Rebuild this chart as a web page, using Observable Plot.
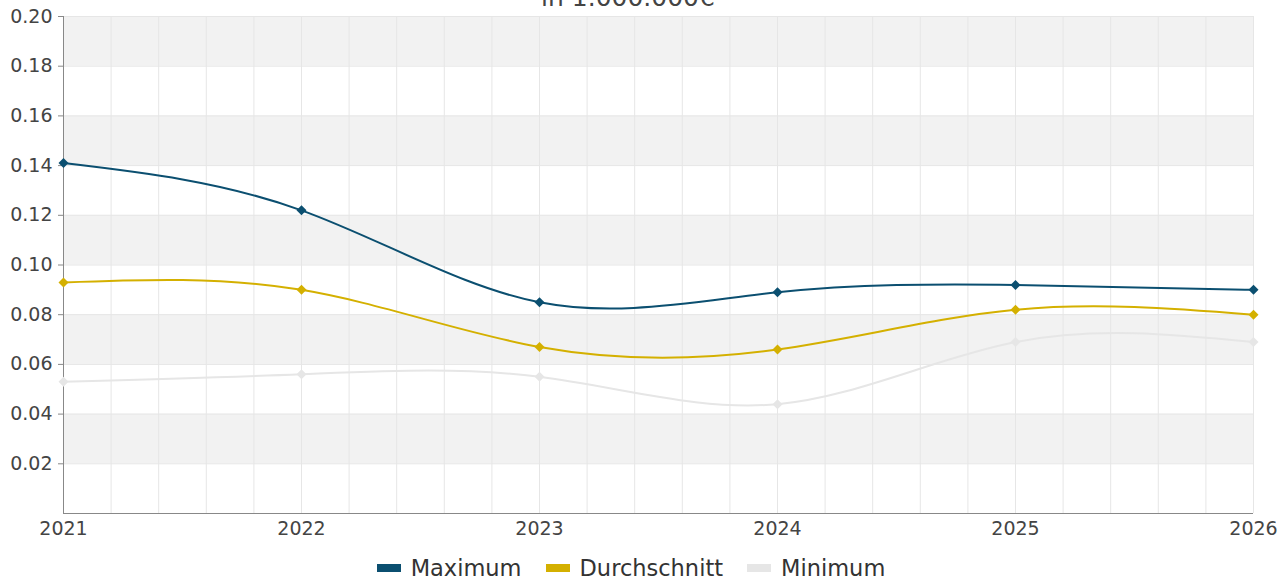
<!DOCTYPE html>
<html>
<head>
<meta charset="utf-8">
<script src="https://cdn.jsdelivr.net/npm/d3@7"></script>
<script src="https://cdn.jsdelivr.net/npm/@observablehq/plot@0.6"></script>
<style>
  html, body { margin: 0; padding: 0; background: #fff; overflow: hidden; width: 1288px; height: 582px; }
  body { position: relative; font-family: "DejaVu Sans", sans-serif; }
  #title { position: absolute; z-index: 2; left: 0; width: 1256px; top: -15px; text-align: center; font-size: 25px; line-height: 25px; color: #444; white-space: nowrap; }
  #chart { position: absolute; z-index: 1; left: 0; top: 0; }
  #legend { position: absolute; z-index: 2; left: 0; width: 1262px; top: 556px; display: flex; justify-content: center; gap: 24px; font-size: 22.5px; line-height: 24px; color: #333; }
  #legend .item { display: flex; align-items: center; }
  #legend .sw { display: inline-block; width: 24px; height: 8px; margin-right: 10px; }
</style>
</head>
<body>
<div id="title">in 1.000.000€</div>
<div id="chart"></div>
<div id="legend"></div>
<script>
const years = [2021, 2022, 2023, 2024, 2025, 2026];
const seriesNames = ["Maximum", "Durchschnitt", "Minimum"];
const seriesColors = ["#0b4f70", "#d4b000", "#e6e6e6"];
const maximum = [0.141, 0.122, 0.085, 0.089, 0.092, 0.090];
const durchschnitt = [0.093, 0.090, 0.067, 0.066, 0.082, 0.080];
const minimum = [0.053, 0.056, 0.055, 0.044, 0.069, 0.069];
const yTicks = [0.02, 0.04, 0.06, 0.08, 0.10, 0.12, 0.14, 0.16, 0.18, 0.20];
const bands = [[0.02, 0.04], [0.06, 0.08], [0.10, 0.12], [0.14, 0.16], [0.18, 0.20]];

const valuesBySeries = [maximum, durchschnitt, minimum];
const data = [];
seriesNames.forEach((s, i) => years.forEach((yr, j) => data.push({series: s, year: yr, value: valuesBySeries[i][j]})));
const colorOf = Object.fromEntries(seriesNames.map((s, i) => [s, seriesColors[i]]));

const minorX = d3.range(0, 26).map(i => 2021 + i * 0.2);
const bandRows = bands.map(([a, b]) => ({a, b}));

const chart = Plot.plot({
  width: 1288,
  height: 548,
  marginTop: 16,
  marginLeft: 63,
  marginRight: 35,
  marginBottom: 35,
  style: {fontFamily: "DejaVu Sans, sans-serif", fontSize: "19px", color: "#444", background: "#fff"},
  x: {domain: [2021, 2026], ticks: years, tickFormat: d => String(d), tickSize: 0, tickPadding: 8, label: null},
  y: {domain: [0, 0.2], ticks: yTicks, tickFormat: d3.format(".2f"), tickSize: 5, tickPadding: 6, label: null},
  marks: [
    Plot.rectY(bandRows, {x1: 2021, x2: 2026, y1: "a", y2: "b", fill: "#f2f2f2"}),
    Plot.ruleY(yTicks, {stroke: "#e6e6e6", strokeWidth: 1}),
    Plot.ruleX(minorX, {stroke: "#e6e6e6", strokeWidth: 1}),
    Plot.axisY({ticks: yTicks, tickFormat: d3.format(".2f"), tickSize: 5, tickPadding: 6, stroke: "#888", fill: "#444", label: null}),
    Plot.ruleX([2021], {stroke: "#888", strokeWidth: 1}),
    Plot.ruleY([0], {stroke: "#888", strokeWidth: 1}),
    Plot.line(data, {x: "year", y: "value", z: "series", stroke: d => colorOf[d.series], strokeWidth: 2, curve: "natural"}),
    Plot.dot(data, {x: "year", y: "value", fill: d => colorOf[d.series], symbol: "diamond2", r: 4.5, stroke: null})
  ]
});
document.getElementById("chart").appendChild(chart);

const legend = document.getElementById("legend");
seriesNames.forEach((s, i) => {
  const item = document.createElement("span");
  item.className = "item";
  const sw = document.createElement("span");
  sw.className = "sw";
  sw.style.background = seriesColors[i];
  item.appendChild(sw);
  item.appendChild(document.createTextNode(s));
  legend.appendChild(item);
});
</script>
</body>
</html>
